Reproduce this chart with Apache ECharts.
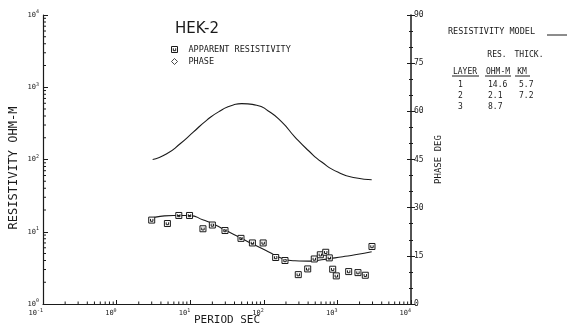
<!DOCTYPE html>
<html>
<head>
<meta charset="utf-8">
<script src="https://cdn.jsdelivr.net/npm/echarts@6/dist/echarts.min.js"></script>
<style>
  html, body { margin: 0; padding: 0; background: #fff; }
  #chart { width: 579px; height: 334px; }
</style>
</head>
<body>
<div id="chart"></div>
<script>
// Apparent resistivity sounding, station HEK-2
const rhoPeriod = [3.0, 4.9, 7.0, 9.8, 14.9, 20, 29.7, 49, 70, 98, 145, 194, 294, 395, 485, 586, 694, 776, 863, 966, 1423, 1903, 2393, 2950];
const rhoApparent = [14.5, 13.0, 16.8, 16.8, 11.0, 12.4, 10.4, 8.1, 7.0, 7.0, 4.4, 4.0, 2.55, 3.06, 4.2, 4.8, 5.2, 4.35, 3.03, 2.45, 2.81, 2.72, 2.5, 6.25];

// Model response: resistivity curve
const modelRhoPeriod = [3.0, 3.9, 5.9, 9.9, 15.1, 20.6, 31.3, 47.5, 72, 115, 175, 265, 403, 612, 927, 1734, 2924];
const modelRho = [15.5, 16.3, 16.8, 16.7, 14.5, 12.8, 10.3, 8.3, 6.7, 5.3, 4.3, 3.96, 3.92, 4.1, 4.35, 4.8, 5.3];

// Model response: phase curve (degrees)
const modelPhasePeriod = [3.09, 4.8, 7.3, 11.0, 16.7, 25.4, 38.5, 50, 80, 115, 175, 265, 403, 612, 1028, 1734, 2924];
const modelPhase = [45.0, 46.8, 49.9, 53.5, 57.2, 60.1, 62.0, 62.4, 61.9, 60.1, 56.7, 52.0, 47.8, 44.2, 41.0, 39.3, 38.7];

// Layered resistivity model
const layers = ['1', '2', '3'];
const layerRes = ['14.6', '2.1', '8.7'];
const layerThick = ['5.7', '7.2', ''];

// Axis extents
const periodMin = 0.1, periodMax = 10000;
const rhoMin = 1, rhoMax = 10000;

const MONO = '"DejaVu Sans Mono", monospace';
const INK = '#1a1a1a';

const sq = 'path://M0,0L10,0L10,10L0,10Z M3,3L3,7L7,7L7,3';

function zip(xs, ys) { return xs.map((x, i) => [x, ys[i]]); }

// Log-decade minor tick values (2..9 x 10^k) inside an extent
function logMinor(lo, hi) {
  const out = [];
  for (let e = Math.round(Math.log10(lo)); e < Math.round(Math.log10(hi)); e++) {
    for (let m = 2; m <= 9; m++) out.push(m * Math.pow(10, e));
  }
  return out;
}

function powLabel(v) {
  const e = Math.round(Math.log10(v));
  return '{b|10}{s|' + e + '}';
}
const powRich = {
  b: { fontFamily: MONO, fontSize: 7, color: INK },
  s: { fontFamily: MONO, fontSize: 5, color: INK, padding: [0, 0, 6, 0] }
};

const chart = echarts.init(document.getElementById('chart'), null, { renderer: 'canvas' });

function tableText(x, y, text, align) {
  return { type: 'text', x: x, y: y, style: { text: text, font: '8px ' + MONO, fill: INK, align: align || 'left', verticalAlign: 'middle' } };
}
function rule(x1, x2, y) {
  return { type: 'line', shape: { x1: x1, y1: y, x2: x2, y2: y }, style: { stroke: INK, lineWidth: 1 } };
}

const option = {
  backgroundColor: '#fff',
  animation: false,
  grid: { left: 43, right: 168, top: 15, bottom: 30, containLabel: false },
  xAxis: {
    type: 'log', min: periodMin, max: periodMax, logBase: 10,
    axisLine: { lineStyle: { color: INK, width: 1.2 } },
    axisTick: { inside: true, length: 4, lineStyle: { color: INK } },
    axisLabel: { formatter: powLabel, rich: powRich, margin: 4, color: INK, align: 'right' },
    splitLine: { show: false }
  },
  yAxis: [
    {
      type: 'log', min: rhoMin, max: rhoMax, logBase: 10,
      axisLine: { show: true, lineStyle: { color: INK, width: 1.2 } },
      axisTick: { inside: true, length: 5, lineStyle: { color: INK } },
      axisLabel: { formatter: powLabel, rich: powRich, margin: 4, color: INK },
      splitLine: { show: false }
    },
    {
      type: 'value', min: 0, max: 90, interval: 15, position: 'right',
      axisLine: { show: true, lineStyle: { color: INK, width: 1.5 } },
      axisTick: { show: true, inside: false, length: 4, lineStyle: { color: INK } },
      minorTick: { show: true, splitNumber: 3, length: 2, lineStyle: { color: INK } },
      axisLabel: { fontFamily: MONO, fontSize: 8, color: INK, margin: 3 },
      splitLine: { show: false },
      name: 'PHASE DEG', nameLocation: 'middle', nameRotate: 90, nameGap: 21,
      nameTextStyle: { fontFamily: MONO, fontSize: 9, color: INK }
    },
    {
      // inward half of the crossing ticks on the phase axis
      type: 'value', min: 0, max: 90, interval: 15, position: 'right',
      axisLine: { show: false },
      axisTick: { show: true, inside: true, length: 4, lineStyle: { color: INK } },
      minorTick: { show: true, splitNumber: 3, length: 2, lineStyle: { color: INK } },
      axisLabel: { show: false },
      splitLine: { show: false }
    }
  ],
  legend: {
    left: 166, top: 40, orient: 'vertical', itemGap: 3,
    itemWidth: 6, itemHeight: 6, selectedMode: false,
    textStyle: { fontFamily: MONO, fontSize: 8.5, color: INK, padding: [0, 0, 0, 6] },
    data: [
      { name: 'APPARENT RESISTIVITY', icon: sq, itemStyle: { color: '#fff', borderColor: INK, borderWidth: 1 } },
      { name: 'PHASE', icon: 'diamond', itemStyle: { color: '#fff', borderColor: INK, borderWidth: 1 } }
    ]
  },
  title: {
    text: 'HEK-2', left: 170, top: 17,
    textStyle: { fontFamily: '"DejaVu Sans", sans-serif', fontSize: 15, fontWeight: 'normal', color: INK }
  },
  series: [
    {
      name: 'model rho', type: 'line', yAxisIndex: 0, smooth: 0.6,
      data: zip(modelRhoPeriod, modelRho), showSymbol: false,
      lineStyle: { color: INK, width: 1.1 }, z: 2
    },
    {
      name: 'model phase', type: 'line', yAxisIndex: 1, smooth: 0.6,
      data: zip(modelPhasePeriod, modelPhase), showSymbol: false,
      lineStyle: { color: INK, width: 1.1 }, z: 2
    },
    {
      name: 'APPARENT RESISTIVITY', type: 'scatter', yAxisIndex: 0,
      data: zip(rhoPeriod, rhoApparent), symbol: sq, symbolSize: 6,
      itemStyle: { color: '#fff', borderColor: INK, borderWidth: 1, opacity: 1 }, z: 3
    },
    {
      name: 'PHASE', type: 'scatter', yAxisIndex: 1, data: [], symbol: 'diamond',
      itemStyle: { color: '#fff', borderColor: INK, borderWidth: 1 }
    },
    {
      // logarithmic minor ticks along the period axis
      name: 'x minor', type: 'custom', yAxisIndex: 0, silent: true, clip: false,
      data: logMinor(periodMin, periodMax).map(v => [v, rhoMin]),
      renderItem: function (params, api) {
        const p = api.coord([api.value(0), rhoMin]);
        return { type: 'line', shape: { x1: p[0], y1: p[1], x2: p[0], y2: p[1] - 2.5 }, style: { stroke: INK, lineWidth: 1 } };
      }
    },
    {
      // logarithmic minor ticks along the resistivity axis
      name: 'y minor', type: 'custom', yAxisIndex: 0, silent: true, clip: false,
      data: logMinor(rhoMin, rhoMax).map(v => [periodMin, v]),
      renderItem: function (params, api) {
        const p = api.coord([periodMin, api.value(1)]);
        return { type: 'line', shape: { x1: p[0], y1: p[1], x2: p[0] + 3, y2: p[1] }, style: { stroke: INK, lineWidth: 1 } };
      }
    }
  ],
  graphic: [
    { type: 'text', x: 14, y: 168, rotation: Math.PI / 2, style: { text: 'RESISTIVITY OHM-M', font: '12px ' + MONO, fill: INK, align: 'center', verticalAlign: 'middle' } },
    { type: 'text', x: 227, y: 320, style: { text: 'PERIOD SEC', font: '11px ' + MONO, fill: INK, align: 'center', verticalAlign: 'middle' } },
    { type: 'text', x: 448, y: 32, style: { text: 'RESISTIVITY MODEL', font: '8.5px ' + MONO, fill: INK, verticalAlign: 'middle' } },
    rule(547, 567, 35),
    tableText(497, 55, 'RES.', 'center'),
    tableText(529, 55, 'THICK.', 'center'),
    tableText(465, 72, 'LAYER', 'center'),
    tableText(498, 72, 'OHM-M', 'center'),
    tableText(522, 72, 'KM', 'center'),
    rule(452, 479, 76),
    rule(485, 511, 76),
    rule(515, 530, 76)
  ].concat(layers.map((l, i) => ({
    type: 'group', children: [
      tableText(458, 85 + i * 11, l),
      tableText(488, 85 + i * 11, layerRes[i]),
      tableText(519, 85 + i * 11, layerThick[i])
    ]
  })))
};

chart.setOption(option);
</script>
</body>
</html>
